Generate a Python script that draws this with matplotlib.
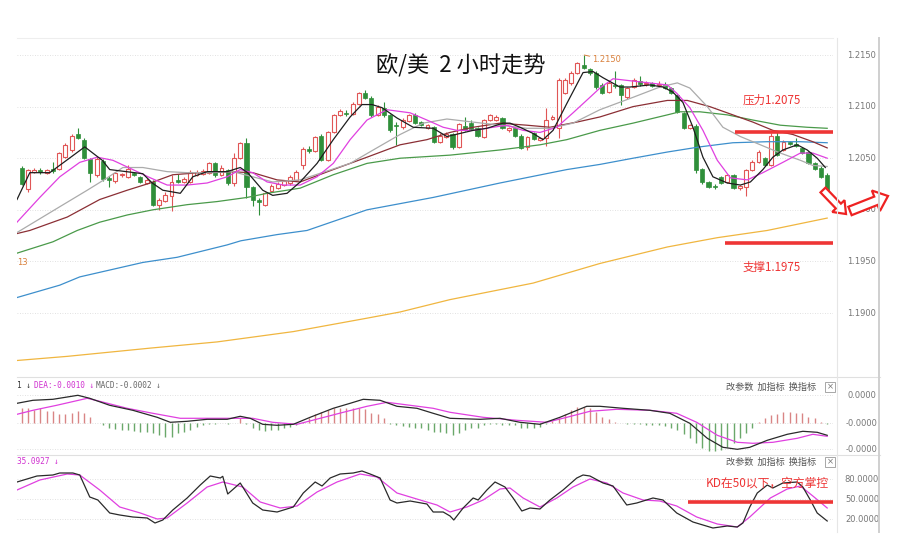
import numpy as np
import matplotlib
matplotlib.use('Agg')
import matplotlib.pyplot as plt
from matplotlib.lines import Line2D
from matplotlib.patches import FancyArrow, Rectangle

plt.rcParams['font.family'] = ['Noto Sans CJK SC', 'DejaVu Sans']

W, H = 899, 556

# K线 (2小时) 开高低收
opens = [1.2041, 1.2020, 1.2037, 1.2039, 1.2036, 1.2040, 1.2040, 1.2051, 1.2058, 1.2073,
         1.2068, 1.2049, 1.2034, 1.2047, 1.2031, 1.2028, 1.2034, 1.2032, 1.2036, 1.2032,
         1.2026, 1.2027, 1.2005, 1.2009, 1.2013, 1.2029, 1.2027, 1.2027, 1.2034, 1.2035,
         1.2036, 1.2045, 1.2034, 1.2039, 1.2026, 1.2050, 1.2065, 1.2022, 1.2010, 1.2005,
         1.2018, 1.2021, 1.2024, 1.2026, 1.2029, 1.2043, 1.2059, 1.2057, 1.2072, 1.2048,
         1.2075, 1.2092, 1.2094, 1.2093, 1.2103, 1.2113, 1.2108, 1.2092, 1.2099, 1.2092,
         1.2082, 1.2080, 1.2086, 1.2092, 1.2085, 1.2079, 1.2080, 1.2066, 1.2071, 1.2073,
         1.2061, 1.2081, 1.2084, 1.2079, 1.2071, 1.2087, 1.2087, 1.2089, 1.2077, 1.2079,
         1.2072, 1.2061, 1.2074, 1.2068, 1.2070, 1.2088, 1.2079, 1.2113, 1.2123, 1.2133,
         1.2140, 1.2136, 1.2133, 1.2121, 1.2114, 1.2121, 1.2121, 1.2109, 1.2119, 1.2125,
         1.2122, 1.2123, 1.2121, 1.2121, 1.2118, 1.2111, 1.2094, 1.2079, 1.2081, 1.2040,
         1.2027, 1.2023, 1.2032, 1.2027, 1.2034, 1.2021, 1.2022, 1.2039, 1.2046, 1.2050,
         1.2043, 1.2072, 1.2058, 1.2066, 1.2064, 1.2060, 1.2056, 1.2045, 1.2041, 1.2034]
highs = [1.2042, 1.2040, 1.2041, 1.2041, 1.2040, 1.2046, 1.2056, 1.2065, 1.2073, 1.2079,
         1.2070, 1.2050, 1.2052, 1.2049, 1.2033, 1.2037, 1.2036, 1.2043, 1.2037, 1.2033,
         1.2031, 1.2029, 1.2011, 1.2017, 1.2034, 1.2035, 1.2032, 1.2039, 1.2039, 1.2040,
         1.2046, 1.2046, 1.2043, 1.2040, 1.2055, 1.2066, 1.2070, 1.2023, 1.2011, 1.2017,
         1.2025, 1.2027, 1.2029, 1.2034, 1.2039, 1.2061, 1.2062, 1.2072, 1.2073, 1.2076,
         1.2093, 1.2098, 1.2097, 1.2104, 1.2114, 1.2116, 1.2110, 1.2102, 1.2104, 1.2093,
         1.2085, 1.2089, 1.2093, 1.2094, 1.2086, 1.2083, 1.2081, 1.2074, 1.2075, 1.2074,
         1.2084, 1.2090, 1.2087, 1.2080, 1.2088, 1.2093, 1.2092, 1.2090, 1.2080, 1.2080,
         1.2073, 1.2072, 1.2075, 1.2071, 1.2099, 1.2092, 1.2128, 1.2128, 1.2135, 1.2143,
         1.2150, 1.2137, 1.2135, 1.2123, 1.2125, 1.2135, 1.2122, 1.2119, 1.2128, 1.2130,
         1.2125, 1.2124, 1.2125, 1.2124, 1.2119, 1.2112, 1.2095, 1.2083, 1.2083, 1.2041,
         1.2028, 1.2025, 1.2033, 1.2035, 1.2035, 1.2024, 1.2040, 1.2048, 1.2058, 1.2051,
         1.2074, 1.2075, 1.2068, 1.2067, 1.2070, 1.2061, 1.2057, 1.2046, 1.2042, 1.2036]
lows = [1.2024, 1.2017, 1.2036, 1.2035, 1.2035, 1.2036, 1.2039, 1.2050, 1.2056, 1.2069,
        1.2049, 1.2027, 1.2032, 1.2028, 1.2022, 1.2026, 1.2032, 1.2031, 1.2033, 1.2026,
        1.2025, 1.2004, 1.2000, 1.2008, 1.1999, 1.2026, 1.2026, 1.2026, 1.2033, 1.2034,
        1.2035, 1.2032, 1.2033, 1.2024, 1.2023, 1.2049, 1.2011, 1.2004, 1.1995, 1.2004,
        1.2017, 1.2020, 1.2023, 1.2024, 1.2028, 1.2040, 1.2055, 1.2056, 1.2047, 1.2047,
        1.2074, 1.2091, 1.2091, 1.2092, 1.2102, 1.2107, 1.2090, 1.2091, 1.2090, 1.2075,
        1.2063, 1.2078, 1.2085, 1.2083, 1.2081, 1.2078, 1.2065, 1.2065, 1.2070, 1.2059,
        1.2060, 1.2076, 1.2077, 1.2071, 1.2070, 1.2086, 1.2086, 1.2078, 1.2075, 1.2071,
        1.2059, 1.2058, 1.2068, 1.2067, 1.2062, 1.2087, 1.2070, 1.2112, 1.2121, 1.2132,
        1.2136, 1.2131, 1.2117, 1.2112, 1.2113, 1.2118, 1.2102, 1.2107, 1.2118, 1.2120,
        1.2120, 1.2119, 1.2119, 1.2117, 1.2112, 1.2094, 1.2078, 1.2078, 1.2036, 1.2025,
        1.2021, 1.2020, 1.2025, 1.2026, 1.2020, 1.2019, 1.2013, 1.2038, 1.2045, 1.2042,
        1.2042, 1.2052, 1.2057, 1.2063, 1.2061, 1.2054, 1.2044, 1.2039, 1.2031, 1.2011]
closes = [1.2025, 1.2039, 1.2039, 1.2037, 1.2039, 1.2038, 1.2055, 1.2063, 1.2072, 1.2070,
          1.2050, 1.2036, 1.2049, 1.2030, 1.2029, 1.2036, 1.2035, 1.2040, 1.2034, 1.2027,
          1.2029, 1.2005, 1.2010, 1.2014, 1.2027, 1.2027, 1.2030, 1.2037, 1.2037, 1.2038,
          1.2045, 1.2034, 1.2041, 1.2026, 1.2050, 1.2065, 1.2022, 1.2010, 1.2008, 1.2016,
          1.2023, 1.2025, 1.2028, 1.2032, 1.2037, 1.2059, 1.2057, 1.2071, 1.2048, 1.2075,
          1.2092, 1.2096, 1.2093, 1.2103, 1.2113, 1.2108, 1.2092, 1.2100, 1.2092, 1.2077,
          1.2081, 1.2087, 1.2092, 1.2084, 1.2082, 1.2082, 1.2066, 1.2072, 1.2073, 1.2061,
          1.2083, 1.2077, 1.2078, 1.2072, 1.2087, 1.2092, 1.2090, 1.2079, 1.2079, 1.2072,
          1.2060, 1.2071, 1.2069, 1.2070, 1.2087, 1.2090, 1.2126, 1.2126, 1.2133, 1.2142,
          1.2137, 1.2133, 1.2119, 1.2113, 1.2123, 1.2120, 1.2111, 1.2118, 1.2126, 1.2122,
          1.2123, 1.2120, 1.2122, 1.2118, 1.2113, 1.2095, 1.2079, 1.2082, 1.2039, 1.2027,
          1.2022, 1.2022, 1.2026, 1.2034, 1.2021, 1.2023, 1.2039, 1.2046, 1.2056, 1.2043,
          1.2072, 1.2053, 1.2066, 1.2064, 1.2062, 1.2055, 1.2045, 1.2040, 1.2032, 1.2012]

# 均线 (读图取样: 序号, 价格)
ma5_idx = [-0.75, 1.3, 4.5, 10.1, 12.9, 14.1, 19.4, 20.9, 22.6, 25.4, 27.4, 29.7, 32.9, 35.0,
           36.2, 38.6, 40.2, 42.5, 44.6, 47.3, 49.9, 52.6, 54.5, 56.1, 57.7, 60.1, 62.7, 65.9,
           68.1, 70.2, 72.3, 74.5, 77.1, 78.2, 79.8, 81.9, 83.5, 85.1, 87.3, 89.9, 91.5, 93.1,
           95.8, 97.4, 100.6, 102.7, 104.3, 105.9, 107.5, 109.1, 110.7, 113.0, 115.1, 116.7,
           118.7, 120.3, 121.9, 124.2, 125.8, 127.4, 128.7]
ma5_val = [1.2010, 1.2036, 1.2036, 1.2061, 1.2048, 1.2039, 1.2035, 1.2026, 1.2019, 1.2016,
           1.2032, 1.2037, 1.2037, 1.2041, 1.2036, 1.2019, 1.2014, 1.2016, 1.2027, 1.2045,
           1.2068, 1.2090, 1.2102, 1.2102, 1.2099, 1.2089, 1.2080, 1.2079, 1.2071, 1.2074,
           1.2077, 1.2079, 1.2084, 1.2084, 1.2080, 1.2074, 1.2068, 1.2077, 1.2103, 1.2133,
           1.2134, 1.2128, 1.2119, 1.2119, 1.2121, 1.2119, 1.2114, 1.2104, 1.2080, 1.2051,
           1.2032, 1.2026, 1.2024, 1.2027, 1.2039, 1.2051, 1.2058, 1.2063, 1.2058, 1.2050,
           1.2041]
ma10_idx = [-0.75, 2.9, 6.1, 9.3, 12.1, 14.6, 17.8, 20.6, 23.3, 26.5, 29.7, 32.9, 35.0, 37.0,
            39.3, 41.9, 44.6, 47.3, 49.9, 52.6, 55.3, 58.5, 62.2, 64.9, 67.5, 69.7, 72.3, 75.5,
            77.7, 80.3, 83.0, 85.7, 88.3, 91.0, 92.6, 94.7, 99.0, 103.4, 104.9, 107.0, 109.1,
            111.4, 113.5, 116.2, 118.7, 121.9, 124.7, 126.7, 129.0]
ma10_val = [1.1988, 1.2012, 1.2032, 1.2046, 1.2051, 1.2048, 1.2039, 1.2031, 1.2024, 1.2024,
            1.2026, 1.2032, 1.2039, 1.2036, 1.2027, 1.2024, 1.2024, 1.2032, 1.2045, 1.2068,
            1.2087, 1.2097, 1.2094, 1.2087, 1.2080, 1.2077, 1.2077, 1.2080, 1.2082, 1.2077,
            1.2075, 1.2080, 1.2094, 1.2109, 1.2118, 1.2127, 1.2124, 1.2121, 1.2113, 1.2099,
            1.2077, 1.2048, 1.2031, 1.2029, 1.2036, 1.2046, 1.2055, 1.2055, 1.2050]
ma20_idx = [-0.75, 6.1, 10.5, 13.7, 16.2, 19.4, 23.3, 26.5, 30.6, 33.8, 37.0, 40.2, 44.6, 52.6,
            56.3, 60.6, 64.3, 68.1, 72.3, 76.6, 80.9, 84.6, 88.3, 92.6, 97.9, 102.2, 105.0,
            107.0, 109.8, 112.3, 115.1, 118.3, 121.5, 124.7, 126.7, 129.0]
ma20_val = [1.1978, 1.2003, 1.2019, 1.2031, 1.2041, 1.2041, 1.2037, 1.2036, 1.2036, 1.2037,
            1.2032, 1.2027, 1.2029, 1.2045, 1.2058, 1.2073, 1.2084, 1.2088, 1.2085, 1.2082,
            1.2079, 1.2079, 1.2084, 1.2097, 1.2109, 1.2119, 1.2123, 1.2118, 1.2100, 1.2080,
            1.2071, 1.2063, 1.2055, 1.2048, 1.2043, 1.2042]
ma30_idx = [-0.75, 1.3, 7.3, 12.5, 16.9, 20.6, 24.2, 28.6, 32.9, 37.0, 40.9, 44.6, 49.9, 55.3,
            60.6, 64.9, 68.6, 72.3, 76.6, 80.9, 84.6, 88.9, 92.6, 97.9, 103.4, 106.6, 110.2,
            113.9, 117.1, 120.3, 123.5, 126.7, 129.0]
ma30_val = [1.1977, 1.1980, 1.1993, 1.2010, 1.2019, 1.2026, 1.2034, 1.2036, 1.2037, 1.2036,
            1.2029, 1.2027, 1.2039, 1.2051, 1.2063, 1.2068, 1.2075, 1.2080, 1.2084, 1.2082,
            1.2080, 1.2085, 1.2090, 1.2100, 1.2106, 1.2106, 1.2100, 1.2092, 1.2085, 1.2077,
            1.2073, 1.2066, 1.2060]
ma60_idx = [-0.75, 5.0, 8.9, 12.5, 16.9, 21.0, 26.5, 31.3, 36.1, 39.3, 44.6, 49.9, 55.3, 60.6,
            68.6, 76.6, 83.0, 87.3, 92.6, 97.9, 103.4, 105.4, 108.6, 113.0, 117.1, 121.5, 125.8,
            129.0]
ma60_val = [1.1958, 1.1969, 1.1980, 1.1988, 1.1995, 1.2000, 1.2005, 1.2008, 1.2012, 1.2016,
            1.2021, 1.2034, 1.2045, 1.2050, 1.2053, 1.2058, 1.2063, 1.2068, 1.2077, 1.2084,
            1.2092, 1.2095, 1.2095, 1.2092, 1.2087, 1.2082, 1.2080, 1.2079]
ma120_idx = [-0.75, 6.1, 9.3, 19.4, 24.9, 32.9, 35.1, 40.9, 45.7, 55.3, 65.9, 76.6, 87.3, 92.6,
             97.9, 103.4, 108.6, 113.9, 119.4, 124.7, 129.0]
ma120_val = [1.1915, 1.1927, 1.1935, 1.1949, 1.1954, 1.1966, 1.1970, 1.1976, 1.1980, 1.2000,
             1.2012, 1.2026, 1.2039, 1.2044, 1.2050, 1.2056, 1.2061, 1.2065, 1.2066, 1.2066,
             1.2065]
ma250_idx = [-0.75, 7.3, 20.6, 31.3, 43.5, 55.3, 60.6, 68.6, 81.9, 92.6, 103.4, 111.4, 119.4,
             129.0]
ma250_val = [1.1854, 1.1858, 1.1866, 1.1872, 1.1882, 1.1895, 1.1901, 1.1913, 1.1929, 1.1948,
             1.1964, 1.1973, 1.1980, 1.1992]

price_ticks = [1.2150, 1.2100, 1.2050, 1.2000, 1.1950, 1.1900]
price_labels = ['1.2150', '1.2100', '1.2050', '1.2000', '1.1950', '1.1900']

# MACD (单位 1e-5)
macd_hist = [15, 15, 13, 15, 12, 12, 9, 9, 10, 12, 10, 6, 0.5,
             -1.7, -5, -5.7, -6.7, -6.7, -7.7, -8.3, -8.3, -10, -11.7, -13.3, -13.3, -10, -8.3,
             -6.7, -3.3, -1.7, -1, -1, 0.5, -0.5, 0.5, 5, -0.5,
             -5, -6.7, -7.7, -6.7, -6.7, -5, -3.3, -1.7,
             1.7, 5.7, 9, 11, 13.3, 15, 15.7, 15.7, 15, 15, 14.3, 10, 9, 5,
             -0.5, -1.7, -2.3, -3.3, -4.3, -5, -6.7, -8.3, -9, -10,
             -11.7, -10, -6.7, -5, -5, -1.7, -0.5, -0.5, -1.7, -1.7,
             -1.7, -5, -5, -4.3, -3.3, -0.7, 2.3, 5, 9, 13.3,
             16.7, 16.7, 15, 11.7, 6.7, 4.3, 1.7, 0.5, -1, -1,
             -1, -1.7, -1.7, -1.7, -2.3, -4.3, -6.7, -11, -15, -20,
             -25, -27.7, -27.7, -26.7, -23.3, -20, -15, -10, -4.3, 1,
             5.7, 8.3, 9, 11, 11, 10, 10, 6.7, 5, 1.7, -1]
dif_idx = [-0.75, 1.8, 5.0, 9.0, 10.9, 14.1, 17.8, 21.7, 23.8, 26.5, 29.7, 32.9, 35.0, 36.6,
           38.6, 40.9, 43.5, 46.2, 49.9, 52.6, 54.7, 57.4, 60.1, 63.3, 65.9, 68.6, 73.4, 76.6,
           79.8, 83.0, 86.2, 90.5, 92.6, 96.3, 100.6, 103.8, 107.0, 109.8, 112.3, 114.6, 116.6,
           119.4, 122.6, 125.1, 127.4, 129.0]
dif_val = [20, 23, 24, 28, 25, 18, 13, 6, 1, 2, 4, 4, 7, 5, -1, -2, -1, 6, 15, 20, 24, 23, 17,
           15, 10, 5, 4, 5, 1, -1, 6, 17, 17, 15, 13, 10, 0, -15, -24, -26, -24, -17, -11, -8,
           -9, -12]
dea_idx = [-0.75, 1.8, 5.6, 10.5, 12.5, 16.9, 21.0, 25.4, 29.7, 33.8, 37.0, 40.2, 44.1, 47.8,
           51.5, 55.3, 58.5, 62.2, 65.9, 68.6, 73.9, 79.3, 84.1, 87.3, 91.0, 95.3, 100.6, 104.9,
           108.1, 111.4, 114.6, 117.1, 120.3, 124.2, 126.7, 129.0]
dea_val = [9, 13, 18, 25, 22, 15, 10, 5, 5, 5, 5, 1, -1, 5, 11, 17, 21, 18, 15, 11, 6, 3, 1, 6,
           12, 14, 13, 10, 1, -12, -19, -20, -19, -15, -11, -13]

# KD
k_idx = [-0.75, 2.45, 5.0, 6.1, 8.2, 9.3, 10.9, 12.2, 14.1, 15.7, 17.8, 20.1, 21.35, 22.6, 24.2,
         26.5, 28.6, 30.2, 31.8, 32.2, 33.0, 35.0, 37.0, 38.6, 40.9, 43.5, 45.1, 47.0, 48.1,
         49.4, 51.0, 53.1, 54.5, 55.8, 57.4, 59.0, 60.1, 62.2, 64.9, 65.9, 67.5, 68.6, 69.2,
         70.7, 72.3, 73.1, 74.5, 75.8, 77.4, 78.7, 80.1, 81.4, 83.0, 84.6, 86.7, 88.9, 89.9,
         91.0, 93.1, 94.7, 96.9, 98.5, 101.1, 102.7, 104.9, 107.5, 110.7, 113.0, 114.6, 115.5,
         116.6, 117.8, 119.4, 120.3, 121.9, 124.2, 125.1, 126.3, 127.4, 129.0]
k_val = [75.5, 84.5, 86, 89, 89, 86, 53, 48.5, 29, 26, 23, 21.5, 14, 18.5, 33.5, 51.5, 71, 84.5,
         81.5, 84, 57.5, 74, 44, 33.5, 30.5, 38, 59, 75.5, 69.5, 81.5, 87.5, 89, 92, 87.5, 81.5,
         48.5, 44, 47, 42.5, 30.5, 30.5, 24.5, 18.5, 36.5, 51.5, 48.5, 63.5, 75.5, 68, 51.5, 32,
         36.5, 35, 48.5, 63.5, 81.5, 86, 84.5, 74, 69.5, 41, 44, 51.5, 48.5, 29, 15.5, 6.5, 9.5,
         8, 14, 38, 59, 71, 66.5, 74, 75.5, 68, 48.5, 29, 17]
d_idx = [-0.75, 2.9, 7.3, 9.3, 12.5, 15.7, 19.0, 21.7, 23.3, 26.5, 29.7, 32.2, 35.4, 38.2, 41.4,
         44.1, 47.3, 50.5, 54.2, 56.9, 60.1, 63.8, 66.5, 68.6, 71.3, 73.9, 76.6, 78.2, 80.3,
         83.0, 85.7, 88.3, 91.0, 93.7, 96.3, 99.5, 102.2, 104.9, 108.1, 111.4, 114.6, 116.6,
         119.9, 122.6, 124.7, 126.7, 129.0]
d_val = [63.5, 78.5, 87.5, 86, 63.5, 38, 29, 20, 21.5, 44, 68, 75.5, 68, 45.5, 36.5, 39.5, 60.5,
         75.5, 87.5, 83, 59, 48.5, 41, 30.5, 38, 48.5, 65, 66.5, 51.5, 38, 51.5, 68, 80, 74, 59,
         48.5, 47, 39.5, 23, 12.5, 8, 23, 51.5, 65, 69.5, 54.5, 36.5]

kd_ticks = [80, 50, 20]
kd_labels = ['80.0000', '50.0000', '20.0000']

RED = '#e05656'
GREEN = '#2f8f3a'
ANN = '#ee3535'

fig = plt.figure(figsize=(W / 100, H / 100), dpi=100)
fig.patch.set_facecolor('white')


def px_axes(left, top, right, bottom):
    return fig.add_axes([left / W, 1 - bottom / H, (right - left) / W, (bottom - top) / H])


def ftext(x, y, s, **kw):
    fig.text(x / W, 1 - y / H, s, **kw)


def fline(x0, y0, x1, y1, **kw):
    fig.add_artist(Line2D([x0 / W, x1 / W], [1 - y0 / H, 1 - y1 / H], transform=fig.transFigure, **kw))


ax = px_axes(17, 38, 833, 377)
ax_macd = px_axes(17, 377, 833, 455)
ax_kd = px_axes(17, 455, 833, 530)

for a in (ax, ax_macd, ax_kd):
    a.set_xlim(-0.75, 129.93)
    for s in a.spines.values():
        s.set_visible(False)
    a.set_xticks([])
    a.set_yticks([])
    a.patch.set_alpha(0)

ax.set_ylim(1.18380, 1.21665)
ax_macd.set_ylim(-31.7, 46.3)
ax_kd.set_ylim(3.5, 116)

dot = (0, (1, 2))
lab_x = 1.0355
for p, lab in zip(price_ticks, price_labels):
    ax.axhline(p, color='#d8d8d8', lw=0.6, ls=dot, zorder=0)
    ax.text(lab_x, p, lab, transform=ax.get_yaxis_transform(), ha='center', va='center',
            fontsize=6, color='#777777', family='DejaVu Sans', clip_on=False)

# 蜡烛
o = np.array(opens)
h = np.array(highs)
l = np.array(lows)
c = np.array(closes)
x = np.arange(len(c))
up = c >= o
body_lo = np.minimum(o, c)
body_h = np.maximum(np.abs(c - o), 0.00004)
ax.vlines(x[up], l[up], h[up], color=RED, lw=0.8, zorder=2)
ax.bar(x[up], body_h[up], bottom=body_lo[up], width=0.62, facecolor='white',
       edgecolor=RED, lw=0.8, zorder=3)
ax.vlines(x[~up], l[~up], h[~up], color=GREEN, lw=0.8, zorder=2)
ax.bar(x[~up], body_h[~up], bottom=body_lo[~up], width=0.66, facecolor=GREEN,
       edgecolor=GREEN, lw=0.5, zorder=3)

# 均线
ax.plot(ma250_idx, ma250_val, color='#f0b640', lw=0.9, zorder=4)
ax.plot(ma120_idx, ma120_val, color='#3d8fcc', lw=0.9, zorder=4)
ax.plot(ma60_idx, ma60_val, color='#4a9a4a', lw=0.9, zorder=4)
ax.plot(ma30_idx, ma30_val, color='#8b2f35', lw=0.9, zorder=4)
ax.plot(ma20_idx, ma20_val, color='#ababab', lw=0.9, zorder=4)
ax.plot(ma10_idx, ma10_val, color='#e040e0', lw=0.9, zorder=5)
ax.plot(ma5_idx, ma5_val, color='#1e1e1e', lw=0.9, zorder=6)

# 压力 / 支撑
ax.hlines(1.2075, 114.2, 129.9, color=ANN, lw=2.6, zorder=7)
ax.text(115.4, 1.21064, '压力1.2075', color=ANN, fontsize=8.3, va='center', ha='left')
ax.hlines(1.1968, 112.6, 129.9, color=ANN, lw=2.6, zorder=7)
ax.text(115.4, 1.19446, '支撑1.1975', color=ANN, fontsize=8.3, va='center', ha='left')

ax.annotate('1.2150', xy=(90.1, 1.2150), xytext=(91.4, 1.21452), color='#d9803c',
            fontsize=6, va='center', family='DejaVu Sans',
            arrowprops=dict(arrowstyle='-', color='#d9803c', lw=0.7, shrinkA=0, shrinkB=0))
ax.text(-0.75, 1.19485, '13', color='#d9803c', fontsize=6, va='center', ha='left',
        family='DejaVu Sans')

ftext(461, 66, '欧/美  2 小时走势', fontsize=16, ha='center', va='center', color='#111111')

# MACD
hist = np.array(macd_hist)
hcol = np.where(hist >= 0, '#d98585', '#6aa86a')
ax_macd.vlines(np.arange(len(hist)), 0, hist, colors=hcol, lw=1.0, zorder=2)
ax_macd.plot(dea_idx, dea_val, color='#e040e0', lw=0.9, zorder=3)
ax_macd.plot(dif_idx, dif_val, color='#2a2a2a', lw=0.9, zorder=4)
for v, lab in ((28.3, '0.0000'), (0, '-0.0000'), (-25.7, '-0.0000')):
    ax_macd.axhline(v, color='#d8d8d8', lw=0.6, ls=dot, zorder=0)
    ax_macd.text(lab_x, v, lab, transform=ax_macd.get_yaxis_transform(), ha='center',
                 va='center', fontsize=6, color='#777777', family='DejaVu Sans', clip_on=False)

mono = ['DejaVu Sans Mono']
ftext(17, 386, '1 ↓', fontsize=5.6, family=mono, color='#333333', va='center')
ftext(34, 386, 'DEA:-0.0010 ↓', fontsize=5.6, family=mono, color='#d030d0', va='center')
ftext(96, 386, 'MACD:-0.0002 ↓', fontsize=5.6, family=mono, color='#666666', va='center')

# KD
ax_kd.plot(d_idx, d_val, color='#e040e0', lw=0.9, zorder=3)
ax_kd.plot(k_idx, k_val, color='#2a2a2a', lw=0.9, zorder=4)
for v, lab in zip(kd_ticks, kd_labels):
    ax_kd.axhline(v, color='#d8d8d8', lw=0.6, ls=dot, zorder=0)
    ax_kd.text(lab_x, v, lab, transform=ax_kd.get_yaxis_transform(), ha='center',
               va='center', fontsize=6, color='#777777', family='DejaVu Sans', clip_on=False)
ax_kd.hlines(46, 106.7, 129.9, color=ANN, lw=2.6, zorder=6)
ax_kd.text(109.6, 74, 'KD在50以下，空方掌控', color=ANN, fontsize=8.5, va='center', ha='left',
           zorder=7)
ftext(17, 462, '35.0927 ↓', fontsize=5.6, family=mono, color='#d030d0', va='center')

# 指标按钮
for yy in (387, 462):
    ftext(726, yy, '改参数  加指标  换指标', fontsize=6.6, color='#555555', va='center')
    fig.add_artist(Rectangle(((825) / W, 1 - (yy + 5) / H), 10 / W, 10 / H,
                             transform=fig.transFigure, fill=False, ec='#999999', lw=0.6))
    ftext(830, yy, '×', fontsize=6, color='#777777', va='center', ha='center',
          family='DejaVu Sans')

# 边框线
fline(17, 38, 833, 38, color='#eeeeee', lw=0.8)
fline(17, 377, 880, 377, color='#e0e0e0', lw=0.8)
fline(17, 455, 880, 455, color='#e0e0e0', lw=0.8)
fline(837, 38, 837, 532, color='#e6e6e6', lw=0.8)
fline(879, 38, 879, 532, color='#cfcfcf', lw=1.4)

# 红色箭头
arrow_kw = dict(length_includes_head=True, transform=fig.dpi_scale_trans,
                facecolor='white', edgecolor='#ee2222', lw=1.6)
fig.add_artist(FancyArrow(823 / 100, (H - 190) / 100, 23 / 100, -24 / 100,
                          width=7 / 100, head_width=17 / 100, head_length=11 / 100, **arrow_kw))
fig.add_artist(FancyArrow(850 / 100, (H - 211) / 100, 38 / 100, 15 / 100,
                          width=9 / 100, head_width=22 / 100, head_length=13 / 100, **arrow_kw))

fig.savefig('out.png', dpi=100)
